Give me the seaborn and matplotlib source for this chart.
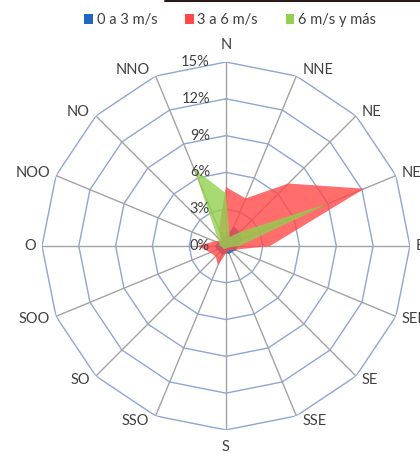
import numpy as np
import matplotlib
matplotlib.use("Agg")
import matplotlib.pyplot as plt
from matplotlib.patches import Patch
from matplotlib.lines import Line2D
import seaborn as sns

# wind directions (clockwise from N)
directions = ['N', 'NNE', 'NE', 'NEE', 'E', 'SEE', 'SE', 'SSE',
              'S', 'SSO', 'SO', 'SOO', 'O', 'NOO', 'NO', 'NNO']

# frequency (%) per speed class
speed_0_3 = [0.8, 1.7, 1.6, 1.4, 1.0, 0.9, 0.7, 0.7, 0.6, 0.8, 0.7, 0.8, 0.9, 0.7, 0.6, 0.7]
speed_3_6 = [4.8, 4.2, 7.2, 12.2, 3.6, 0.8, 0.5, 0.5, 0.6, 1.7, 1.2, 1.4, 2.3, 1.0, 0.6, 1.5]
speed_6_plus = [4.3, 0.8, 1.6, 9.2, 1.1, 0.3, 0.2, 0.2, 0.2, 0.3, 0.3, 0.3, 0.5, 0.6, 1.0, 6.8]

series_names = ['0 a 3 m/s', '3 a 6 m/s', '6 m/s y más']
series_colors = ['#1F66C1', '#FF4848', '#92D050']
series_alpha = [0.9, 0.8, 0.8]

r_ticks = [0, 3, 6, 9, 12, 15]
r_labels = ['0%', '3%', '6%', '9%', '12%', '15%']

sns.set_style("white")
plt.rcParams['font.family'] = ['Lato', 'DejaVu Sans']
text_color = '#404040'

fig = plt.figure(figsize=(4.2, 4.54), dpi=100)
ax = fig.add_axes([0.1, 0.0529, 0.876, 0.8106], projection='polar')
ax.set_theta_zero_location('N')
ax.set_theta_direction(-1)
ax.set_ylim(0, 15)
ax.grid(False)
ax.set_xticks([])
ax.set_yticks([])
ax.spines['polar'].set_visible(False)
ax.set_facecolor('none')

theta = np.deg2rad(np.arange(len(directions)) * 360 / len(directions))
theta_c = np.append(theta, theta[0])

# polygon grid
for r in r_ticks[1:]:
    ax.plot(theta_c, [r] * len(theta_c), color='#8EA6D4', lw=1.0, zorder=1)
for t in theta:
    ax.plot([t, t], [0, 15], color='#A3A3A3', lw=1.0, zorder=1)

# filled series
for vals, col, a in zip([speed_0_3, speed_3_6, speed_6_plus], series_colors, series_alpha):
    v = np.append(vals, vals[0])
    ax.fill(theta_c, v, color=col, alpha=a, lw=0, zorder=2)

# radial labels
for r, lab in zip(r_ticks, r_labels):
    ax.annotate(lab, xy=(0, r), xytext=(-16, 0), textcoords='offset pixels',
                ha='right', va='center', fontsize=10.5, color=text_color, zorder=3)

# direction labels, placed just outside each outer vertex
for t, lab in zip(theta, directions):
    s, c = np.sin(t), np.cos(t)
    if abs(s) < 1e-6:
        ha = 'center'
        va = 'bottom' if c > 0 else 'top'
        off = (0, 10 if c > 0 else -10)
    else:
        ha = 'left' if s > 0 else 'right'
        va = 'center'
        off = (6 if s > 0 else -6, 6 * c)
    ax.annotate(lab, xy=(t, 15), xytext=off, textcoords='offset pixels',
                ha=ha, va=va, fontsize=10.5, color=text_color, annotation_clip=False)

handles = [Patch(facecolor=c, edgecolor='none') for c in series_colors]
fig.legend(handles, series_names, loc='upper center', bbox_to_anchor=(0.548, 1.0),
           ncol=3, frameon=False, fontsize=10.5, handlelength=0.6, handleheight=0.6,
           handletextpad=0.25, columnspacing=1.9, labelcolor=text_color)

# thin dark line along top edge
fig.add_artist(Line2D([0.393, 1.0], [0.998, 0.998], color='#2B1A1A', lw=1.5,
                      transform=fig.transFigure))

fig.savefig('out.png', dpi=100)
